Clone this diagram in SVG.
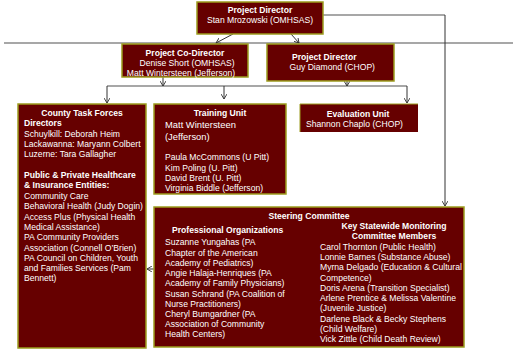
<svg xmlns="http://www.w3.org/2000/svg" width="513" height="349" viewBox="0 0 513 349">
<defs>
<marker id="ah" markerWidth="6" markerHeight="6" refX="5" refY="3" orient="auto" markerUnits="userSpaceOnUse">
<path d="M0,0 L5,3 L0,6" fill="none" stroke="#333" stroke-width="0.9"/>
</marker>
<style>
.box{fill:#660000;stroke:#9c9c1e;stroke-width:1.5}
text{font-family:"Liberation Sans",Arial,sans-serif;font-size:8.6px;fill:#ffffff}
.b{font-weight:bold}
.c{text-anchor:middle}
.big{font-size:9.4px}
.g{fill:none;stroke:#8a8a8a;stroke-width:1.5}
.d{fill:none;stroke:#333;stroke-width:1;marker-end:url(#ah)}
</style>
</defs>
<rect width="513" height="349" fill="#ffffff"/>
<g id="connectors">
<line class="g" x1="4" y1="43" x2="513" y2="43"/>
<line class="g" x1="323" y1="15" x2="445" y2="15"/>
<line class="d" x1="445" y1="15" x2="445" y2="206"/>
<line class="d" x1="233" y1="34" x2="216" y2="43"/>
<line class="d" x1="291" y1="34" x2="299" y2="43"/>
<line class="g" x1="107" y1="86" x2="407" y2="86"/>
<line class="d" x1="163" y1="77" x2="163" y2="86"/>
<line class="d" x1="347" y1="81" x2="347" y2="86"/>
<line class="d" x1="107" y1="86" x2="107" y2="103"/>
<line class="d" x1="224" y1="86" x2="224" y2="99"/>
<line class="d" x1="407" y1="86" x2="407" y2="103"/>
<line class="d" x1="154" y1="269" x2="147" y2="269"/>
</g>
<g id="project-director">
<rect class="box" x="197" y="2" width="126" height="32"/>
<text class="b c" x="260" y="13">Project Director</text>
<text class="c" x="260" y="23">Stan Mrozowski (OMHSAS)</text>
</g>
<g id="co-director">
<rect class="box" x="122" y="44" width="126" height="33"/>
<text class="b c" x="185" y="55.5">Project Co-Director</text>
<text class="c" x="187" y="66">Denise Short (OMHSAS)</text>
<text class="c" x="181" y="76">Matt Wintersteen (Jefferson)</text>
</g>
<g id="project-director-chop">
<rect class="box" x="267" y="44" width="127" height="37"/>
<text class="b" x="292" y="60">Project Director</text>
<text x="289.5" y="70">Guy Diamond (CHOP)</text>
</g>
<g id="county-task-forces">
<rect class="box" x="18" y="104" width="128" height="244"/>
<text class="b c" x="82" y="116">County Task Forces</text>
<text class="b" x="24" y="126">Directors</text>
<text x="24" y="137">Schuylkill: Deborah Heim</text>
<text x="24" y="147">Lackawanna: Maryann Colbert</text>
<text x="24" y="157">Luzerne: Tara Gallagher</text>
<text class="b" x="24" y="178">Public &amp; Private Healthcare</text>
<text class="b" x="24" y="188">&amp; Insurance Entities:</text>
<text x="24" y="199">Community Care</text>
<text x="24" y="209">Behavioral Health (Judy Dogin)</text>
<text x="24" y="220">Access Plus (Physical Health</text>
<text x="24" y="230">Medical Assistance)</text>
<text x="24" y="240">PA Community Providers</text>
<text x="24" y="251">Association (Connell O’Brien)</text>
<text x="24" y="261">PA Council on Children, Youth</text>
<text x="24" y="271">and Families Services (Pam</text>
<text x="24" y="281">Bennett)</text>
</g>
<g id="training-unit">
<rect class="box" x="154" y="104" width="132" height="90"/>
<text class="b c" x="220" y="116">Training Unit</text>
<text class="big" x="165" y="127.5">Matt Wintersteen</text>
<text class="big" x="165" y="140">(Jefferson)</text>
<text x="165" y="160">Paula McCommons (U Pitt)</text>
<text x="165" y="171">Kim Poling (U. Pitt)</text>
<text x="165" y="181">David Brent (U. Pitt)</text>
<text x="165" y="191">Virginia Biddle (Jefferson)</text>
</g>
<g id="evaluation-unit">
<rect x="300" y="104" width="118" height="28" fill="#660000"/>
<path d="M300,132 V104 H418" fill="none" stroke="#9c9c1e" stroke-width="1"/>
<text class="b c" x="358" y="117">Evaluation Unit</text>
<text x="306" y="127">Shannon Chaplo (CHOP)</text>
</g>
<g id="steering-committee">
<rect class="box" x="154" y="207" width="310" height="140"/>
<text class="b c" x="309" y="219">Steering Committee</text>
<text class="b" x="172" y="233">Professional Organizations</text>
<text x="165" y="245">Suzanne Yungahas (PA</text>
<text x="165" y="255.5">Chapter of the American</text>
<text x="165" y="266">Academy of Pediatrics)</text>
<text x="165" y="276">Angie Halaja-Henriques (PA</text>
<text x="165" y="286">Academy of Family Physicians)</text>
<text x="165" y="296.5">Susan Schrand (PA Coalition of</text>
<text x="165" y="306.5">Nurse Practitioners)</text>
<text x="165" y="316.5">Cheryl Bumgardner (PA</text>
<text x="165" y="327">Association of Community</text>
<text x="165" y="337">Health Centers)</text>
<text class="b c" x="394" y="229">Key Statewide Monitoring</text>
<text class="b c" x="394" y="239">Committee Members</text>
<text x="320" y="250">Carol Thornton (Public Health)</text>
<text x="320" y="260">Lonnie Barnes (Substance Abuse)</text>
<text x="320" y="270">Myrna Delgado (Education &amp; Cultural</text>
<text x="320" y="280.5">Competence)</text>
<text x="320" y="291">Doris Arena (Transition Specialist)</text>
<text x="320" y="301">Arlene Prentice &amp; Melissa Valentine</text>
<text x="320" y="311">(Juvenile Justice)</text>
<text x="320" y="322">Darlene Black &amp; Becky Stephens</text>
<text x="320" y="331.5">(Child Welfare)</text>
<text x="320" y="341.5">Vick Zittle (Child Death Review)</text>
</g>
</svg>
